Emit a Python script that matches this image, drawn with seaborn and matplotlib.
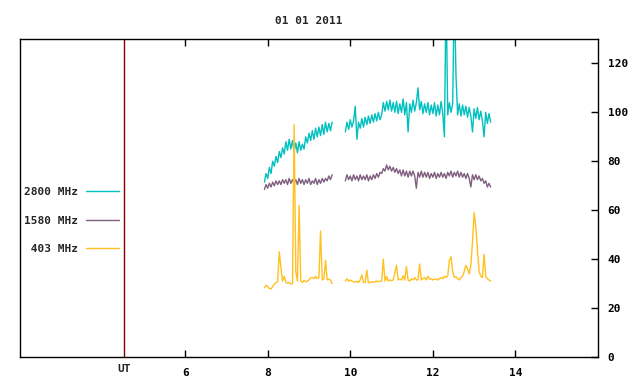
import numpy as np
import pandas as pd
import seaborn as sns
import matplotlib.pyplot as plt

# hours UT, two recording segments with a gap between them
seg_a_start, seg_a_end = 7.92, 9.56
seg_b_start, seg_b_end = 9.88, 13.40

flux_2800_a = [71.5, 75, 73, 77.5, 75, 80, 78, 82, 79.5, 84, 81.5, 85.5, 83, 88, 84.5, 89, 85,
               88.5, 84, 87.5, 83.5, 88, 84.5, 87, 85, 90, 87.5, 91.5, 88.5, 92.5, 89, 93.5, 90,
               94, 90.5, 95, 91, 96, 92, 95.5, 92.5, 96]
flux_2800_b = [92, 96, 93, 97, 94, 96.5, 102.5, 89, 96, 93.5, 97.5, 94, 98, 95, 98.5, 95.5, 99,
               96, 99.5, 96.5, 100, 97, 99, 104, 100.5, 104.5, 101, 105, 100.5, 104, 100, 104.5,
               99.5, 103.5, 100, 105.5, 99, 104, 92, 103.5, 100, 105, 100.5, 104, 110, 101, 104.5,
               99.5, 103.5, 100, 104, 99, 103, 99.5, 104, 98.5, 103, 99, 104.5, 99.5, 90, 150, 99,
               104, 100, 103.5, 150, 115, 99, 103.5, 98.5, 103, 99, 102.5, 98, 102, 98.5, 92,
               101.5, 97.5, 102, 97, 100.5, 96.5, 90, 100, 95.5, 99.5, 96]

flux_1580_a = [68.5, 70.5, 69, 71, 69.5, 71.5, 70, 72, 70.5, 72, 70.5, 72.5, 71, 72.5, 70.5, 73,
               71, 72.5, 71, 72.5, 70.5, 73, 71, 72.5, 70.5, 72.5, 71, 73, 70.5, 72, 71, 73, 70.5,
               72.5, 71, 73, 71.5, 73, 72, 74, 72.5, 74.5]
flux_1580_b = [72, 74.5, 72.5, 74, 72, 74.5, 72.5, 74, 72, 74.5, 72.5, 74, 72.5, 74.5, 72, 74,
               72.5, 74.5, 73, 75, 73.5, 75.5, 75, 77, 76, 78.5, 76.5, 78, 76, 77.5, 75.5, 77, 75,
               76.5, 74, 76.5, 74, 76, 73.5, 76, 74, 76, 74, 69, 75.5, 73.5, 76, 73.5, 75.5, 73.5,
               75.5, 73, 75, 73.5, 75.5, 73, 75, 73.5, 75.5, 73.5, 75, 73, 75.5, 74, 76, 73.5,
               75.5, 74, 76, 73.5, 75.5, 73.5, 75, 73, 75, 73, 69.5, 74.5, 72.5, 74.5, 72.5, 74,
               72, 73, 71, 72, 69.5, 71, 69.5]

flux_403_a = [28.3, 29.3, 28.8, 28.0, 27.8, 28.8, 29.8, 30.3, 30.8, 43, 36.5, 31, 33, 30.5, 30.2,
              30.5, 29.8, 30, 95, 35, 31, 62, 31, 30.5, 31.3, 30.8, 31, 31.5, 32.3, 32.5, 32, 33,
              32, 32.5, 51.5, 31.5, 32, 39.5, 31.5, 31.8, 31.5, 30]
flux_403_b = [31, 32, 31, 31.5, 31, 30.8, 30.5, 31, 30.5, 31.5, 33.5, 30.5, 30.5, 35.5, 30.3, 30.5,
              30.8, 30.5, 30.8, 31, 30.8, 31, 31, 40, 31, 33, 31, 31.5, 31.2, 31.5, 34.5, 37.5,
              31.5, 31.8, 31.5, 33.2, 31.5, 37, 31.5, 31, 32, 31.5, 32.5, 31.5, 31.5, 38, 31.5, 32,
              32.5, 31.5, 33, 31.8, 32, 31.5, 31.8, 32, 31.5, 32, 32.5, 32, 33, 32.5, 33.2, 39.5,
              41, 35, 32.5, 32.8, 32, 31.5, 32.5, 33, 35, 37.5, 36, 34, 37.5, 47, 59, 53, 44, 35,
              33, 32.5, 42, 33, 32, 31.5, 31]

labels = ["2800 MHz", "1580 MHz", " 403 MHz"]
colors = ["#00c0c0", "#7f5f7f", "#ffc020"]
series = [(flux_2800_a, flux_2800_b), (flux_1580_a, flux_1580_b), (flux_403_a, flux_403_b)]

x_ticks = [6, 8, 10, 12, 14]
y_ticks = [0, 20, 40, 60, 80, 100, 120]
ut_mark = 4.53

sns.set_style("white")
plt.rcParams["font.family"] = ["DejaVu Sans Mono"]
plt.rcParams["font.weight"] = "bold"

fig = plt.figure(figsize=(6.4, 3.84), dpi=100)
ax = fig.add_axes([20 / 640, 1 - 357 / 384, 578 / 640, 318 / 384])

for label, color, (part_a, part_b) in zip(labels, colors, series):
    t_a = np.linspace(seg_a_start, seg_a_end, len(part_a))
    t_b = np.linspace(seg_b_start, seg_b_end, len(part_b))
    sns.lineplot(x=t_a, y=part_a, color=color, lw=1.0, ax=ax, label=label)
    sns.lineplot(x=t_b, y=part_b, color=color, lw=1.0, ax=ax)

ax.axvline(ut_mark, color="#800000", lw=1)

ax.set_xlim(2, 16)
ax.set_ylim(0, 130)
ax.set_xticks(x_ticks)
ax.set_xticklabels([str(v) for v in x_ticks])
ax.set_yticks(y_ticks)
ax.yaxis.tick_right()
ax.tick_params(axis="x", direction="in", length=5, width=1, top=True, bottom=True,
               labelsize=8, pad=8, colors="black")
ax.tick_params(axis="y", direction="in", length=5, width=1, left=False, right=True,
               labelsize=8, pad=7, colors="black")
for lbl in ax.get_xticklabels() + ax.get_yticklabels():
    lbl.set_fontweight("bold")
for side in ax.spines.values():
    side.set_color("black")
    side.set_linewidth(1)

ax.text(ut_mark, -0.022, "UT", transform=ax.get_xaxis_transform(), ha="center", va="top",
        fontsize=8, fontweight="bold")
ax.set_title("01 01 2011", fontsize=8, fontweight="bold", pad=11)

leg = ax.legend(loc="upper left", bbox_to_anchor=(0.0, 0.546), frameon=False, markerfirst=False,
                handlelength=3.0, handletextpad=0.7, labelspacing=1.65, borderpad=0.2,
                borderaxespad=0.15, prop={"size": 8, "weight": "bold"})

ax.set_xlabel("")
ax.set_ylabel("")
fig.savefig("out.png", dpi=100)
